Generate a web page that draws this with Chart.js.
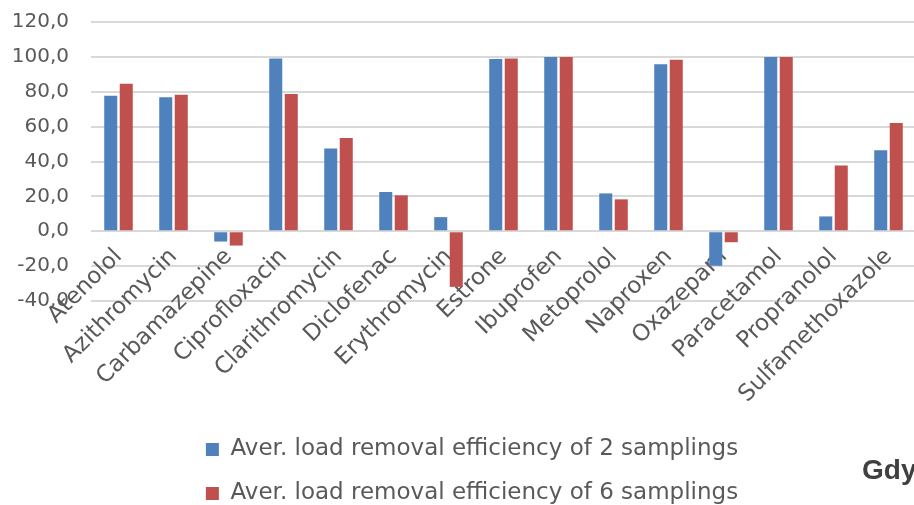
<!DOCTYPE html>
<html>
<head>
<meta charset="utf-8">
<script src="https://cdn.jsdelivr.net/npm/chart.js@4.4.1/dist/chart.umd.min.js"></script>
<style>
  html, body { margin: 0; padding: 0; background: #ffffff; overflow: hidden; }
  #wrap { position: relative; width: 944px; height: 515px; }
  #note { position: absolute; left: 862px; top: 456px; font: bold 28px/28px "Liberation Sans", Arial, sans-serif; color: #404040; white-space: nowrap; }
</style>
</head>
<body>
<div id="wrap">
  <canvas id="c" width="944" height="515"></canvas>
  <div id="note">Gdynia</div>
</div>
<script>
// Pharmaceuticals analysed
const categories = ["Atenolol", "Azithromycin", "Carbamazepine", "Ciprofloxacin", "Clarithromycin",
  "Diclofenac", "Erythromycin", "Estrone", "Ibuprofen", "Metoprolol", "Naproxen", "Oxazepam",
  "Paracetamol", "Propranolol", "Sulfamethoxazole"];

// Average load removal efficiency, %
const removal2 = [77.7, 76.9, -5.9, 99.0, 47.5, 22.5, 8.1, 98.8, 99.9, 21.7, 95.8, -19.8, 99.9, 8.5, 46.5];
const removal6 = [84.6, 78.3, -8.2, 78.7, 53.5, 20.6, -31.9, 99.0, 99.9, 18.3, 98.3, -6.3, 99.9, 37.7, 62.1];

const seriesNames = ["Aver. load removal efficiency of 2 samplings", "Aver. load removal efficiency of 6 samplings"];

// Value axis range
const yMin = -40, yMax = 120, yStep = 20;

const textColor = "#595959";
const gridColor = "#d9d9d9";
const fontFamily = "'DejaVu Sans', sans-serif";

// invisible axis used only to reserve space
const spacer = (type, position, size) => ({
  type, position, display: true,
  grid: { display: false }, border: { display: false }, ticks: { display: false },
  afterFit: s => { if (s.isHorizontal()) s.height = size; else s.width = size; }
});

new Chart(document.getElementById("c"), {
  type: "bar",
  data: {
    labels: categories,
    datasets: [
      { label: seriesNames[0], data: removal2, backgroundColor: "#4f81bd", borderWidth: 0, xAxisID: "x", yAxisID: "y" },
      { label: seriesNames[1], data: removal6, backgroundColor: "#c0504d", borderWidth: 0, xAxisID: "x", yAxisID: "y" }
    ]
  },
  options: {
    responsive: false,
    animation: false,
    layout: { padding: { top: 22, right: 0, left: 0, bottom: 0 } },
    datasets: { bar: { categoryPercentage: 0.564, barPercentage: 0.84 } },
    scales: {
      x: {
        position: { y: 0 },
        grid: { display: false },
        border: { display: false },
        ticks: {
          autoSkip: false, maxRotation: 45, minRotation: 45, padding: 4,
          color: textColor, font: { family: fontFamily, size: 23 }
        }
      },
      y: {
        min: yMin, max: yMax,
        ticks: {
          stepSize: yStep, padding: 22, color: textColor,
          font: { family: fontFamily, size: 20 },
          callback: v => v.toFixed(1).replace(".", ",")
        },
        grid: { color: gridColor, lineWidth: 2, drawTicks: false },
        border: { display: false },
        afterFit: s => { s.width = 91; s.paddingTop = 0; s.paddingBottom = 0; }
      },
      xSpace: spacer("category", "bottom", 116),
      ySpace: spacer("linear", "right", 28)
    },
    plugins: {
      tooltip: { enabled: false },
      legend: {
        position: "bottom",
        labels: {
          boxWidth: 13, boxHeight: 13, padding: 21, color: textColor,
          font: { family: fontFamily, size: 23 }
        }
      }
    }
  }
});
</script>
</body>
</html>
